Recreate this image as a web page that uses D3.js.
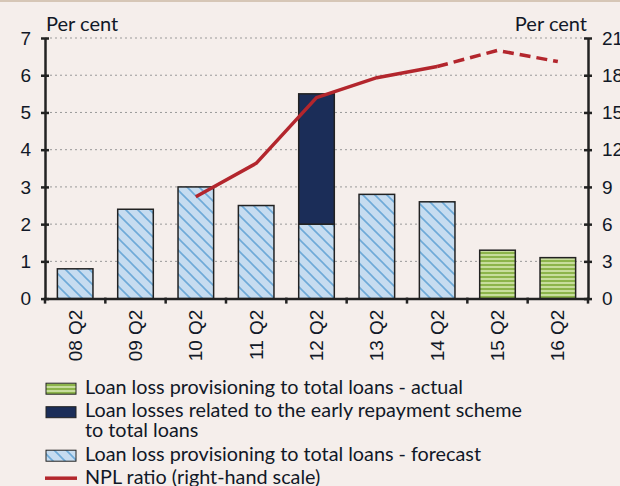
<!DOCTYPE html>
<meta charset="utf-8">
<style>
body { margin: 0; background: #f5eeeb; }
svg { display: block; font-family: Lato, "Open Sans", sans-serif; }
.grid line { stroke: #999; stroke-dasharray: 2,3; stroke-width: 1; }
.axis path, .axis line { stroke: #222; stroke-width: 2.5; }
.axis text { font-size: 19px; fill: #111827; }
.legend text { font-size: 19.8px; fill: #111827; }
</style>
<body>
<div id="chart"></div>
<script src="https://d3js.org/d3.v7.min.js"></script>
<script>

var categories = ["08 Q2", "09 Q2", "10 Q2", "11 Q2", "12 Q2", "13 Q2", "14 Q2", "15 Q2", "16 Q2"];
// bar values, per cent of total loans
var forecast = [0.8, 2.4, 3.0, 2.5, 2.0, 2.8, 2.6, null, null];
var earlyRepayment = [null, null, null, null, 3.5, null, null, null, null];
var actual = [null, null, null, null, null, null, null, 1.3, 1.1];
// NPL ratio, right-hand scale
var nplCats = ["10 Q2", "11 Q2", "12 Q2", "13 Q2", "14 Q2", "15 Q2", "16 Q2"];
var npl = [8.2, 10.9, 16.2, 17.8, 18.7, 20.0, 19.1];
var nplDashedFrom = "14 Q2";
var leftTicks = [0, 1, 2, 3, 4, 5, 6, 7];
var rightTicks = [0, 3, 6, 9, 12, 15, 18, 21];

var width = 620, height = 486;
var x0 = 45, x1 = 588, yTop = 38, yBot = 298.6;

var svg = d3.select("#chart").append("svg")
    .attr("width", width)
    .attr("height", height);

svg.append("rect").attr("width", width).attr("height", height).attr("fill", "#f5eeeb");
svg.append("rect").attr("width", width).attr("height", 2).attr("fill", "#d6c6b6");

var defs = svg.append("defs");

var hatch = defs.append("pattern")
    .attr("id", "hatch")
    .attr("patternUnits", "userSpaceOnUse")
    .attr("width", 12).attr("height", 12);
hatch.append("rect").attr("width", 12).attr("height", 12).attr("fill", "#c6dcf0");
hatch.append("path")
    .attr("d", "M0,0 L12,12 M-6,6 L6,18 M6,-6 L18,6")
    .attr("stroke", "#6eaad8").attr("stroke-width", 1.6);

var stripes = defs.append("pattern")
    .attr("id", "stripes")
    .attr("patternUnits", "userSpaceOnUse")
    .attr("width", 8).attr("height", 4);
stripes.append("rect").attr("width", 8).attr("height", 4).attr("fill", "#c7dd9c");
stripes.append("rect").attr("width", 8).attr("height", 2).attr("fill", "#8cb44b");

var x = d3.scaleBand().domain(categories).range([x0, x1]).paddingInner(0.41).paddingOuter(0.205);
var xb = d3.scaleBand().domain(categories).range([x0, x1]);
var y = d3.scaleLinear().domain([0, 7]).range([yBot, yTop]);
var y2 = d3.scaleLinear().domain([0, 21]).range([yBot, yTop]);

// gridlines
svg.append("g").attr("class", "grid")
  .selectAll("line")
  .data(leftTicks.slice(1))
  .enter().append("line")
    .attr("x1", x0).attr("x2", x1)
    .attr("y1", function(d) { return y(d); })
    .attr("y2", function(d) { return y(d); });

// bars
var rows = categories.map(function(c, i) {
  return {cat: c, forecast: forecast[i], early: earlyRepayment[i], actual: actual[i]};
});

var bars = svg.append("g");
rows.forEach(function(d) {
  if (d.forecast != null) {
    bars.append("rect")
      .attr("x", x(d.cat)).attr("width", x.bandwidth())
      .attr("y", y(d.forecast)).attr("height", y(0) - y(d.forecast))
      .attr("fill", "url(#hatch)").attr("stroke", "#222").attr("stroke-width", 1.5);
  }
  if (d.early != null) {
    var base = d.forecast || 0;
    bars.append("rect")
      .attr("x", x(d.cat)).attr("width", x.bandwidth())
      .attr("y", y(base + d.early)).attr("height", y(base) - y(base + d.early))
      .attr("fill", "#1b2d58").attr("stroke", "#222").attr("stroke-width", 1.5);
  }
  if (d.actual != null) {
    bars.append("rect")
      .attr("x", x(d.cat)).attr("width", x.bandwidth())
      .attr("y", y(d.actual)).attr("height", y(0) - y(d.actual))
      .attr("fill", "url(#stripes)").attr("stroke", "#222").attr("stroke-width", 1.5);
  }
});

// NPL line
var nplData = nplCats.map(function(c, i) { return {cat: c, v: npl[i]}; });
var cut = nplCats.indexOf(nplDashedFrom);
var line = d3.line()
    .x(function(d) { return xb(d.cat) + xb.bandwidth() / 2; })
    .y(function(d) { return y2(d.v); });

svg.append("path")
    .datum(nplData.slice(0, cut + 1))
    .attr("d", line)
    .attr("fill", "none").attr("stroke", "#b3262d").attr("stroke-width", 3.5)
    .attr("stroke-linejoin", "round");
svg.append("path")
    .datum(nplData.slice(cut))
    .attr("d", line)
    .attr("fill", "none").attr("stroke", "#b3262d").attr("stroke-width", 3.5)
    .attr("stroke-dasharray", "11,6");

// axes
var leftAxis = svg.append("g").attr("class", "axis")
    .attr("transform", "translate(" + x0 + ",0)")
    .call(d3.axisLeft(y).tickValues(leftTicks).tickFormat(d3.format("d"))
      .tickSize(4).tickSizeOuter(0).tickPadding(10));
leftAxis.selectAll("line").attr("x2", 4).attr("x1", -4);

var rightAxis = svg.append("g").attr("class", "axis")
    .attr("transform", "translate(" + x1 + ",0)")
    .call(d3.axisRight(y2).tickValues(rightTicks).tickFormat(d3.format("d"))
      .tickSize(4).tickSizeOuter(0).tickPadding(10));
rightAxis.selectAll("line").attr("x1", -4).attr("x2", 4);

var bottomAxis = svg.append("g").attr("class", "axis")
    .attr("transform", "translate(0," + yBot + ")")
    .call(d3.axisBottom(xb).tickSize(0).tickSizeOuter(0));
bottomAxis.selectAll("text")
    .attr("transform", "rotate(-90)")
    .attr("x", -11).attr("y", 0).attr("dy", "0.35em")
    .style("text-anchor", "end");

// tick marks between categories
svg.append("g")
  .selectAll("line")
  .data(categories.concat(["end"]))
  .enter().append("line")
    .attr("x1", function(d, i) { return x0 + i * xb.bandwidth(); })
    .attr("x2", function(d, i) { return x0 + i * xb.bandwidth(); })
    .attr("y1", yBot - 1).attr("y2", yBot + 5)
    .attr("stroke", "#222").attr("stroke-width", 2.5);

svg.append("text").attr("x", 46).attr("y", 31)
    .attr("font-size", 20).attr("fill", "#111827").text("Per cent");
svg.append("text").attr("x", 587).attr("y", 31).attr("text-anchor", "end")
    .attr("font-size", 20).attr("fill", "#111827").text("Per cent");

// legend
var legendItems = [
  {type: "stripes", lines: ["Loan loss provisioning to total loans - actual"]},
  {type: "early", lines: ["Loan losses related to the early repayment scheme", "to total loans"]},
  {type: "hatch", lines: ["Loan loss provisioning to total loans - forecast"]},
  {type: "line", lines: ["NPL ratio (right-hand scale)"]}
];
var legend = svg.append("g").attr("class", "legend");
var ly = 393.7;
legendItems.forEach(function(item) {
  if (item.type == "line") {
    legend.append("line").attr("x1", 45).attr("x2", 77)
      .attr("y1", ly - 6).attr("y2", ly - 6)
      .attr("stroke", "#b3262d").attr("stroke-width", 3.5);
  } else {
    legend.append("rect").attr("x", 46).attr("y", ly - 10.5).attr("width", 30).attr("height", 11)
      .attr("fill", item.type == "early" ? "#1b2d58" : "url(#" + item.type + ")")
      .attr("stroke", "#222").attr("stroke-width", 1);
  }
  item.lines.forEach(function(t, i) {
    legend.append("text").attr("x", 85).attr("y", ly + i * 20).text(t);
  });
  ly += (item.lines.length - 1) * 20 + 23.5;
});

</script>
</body>
